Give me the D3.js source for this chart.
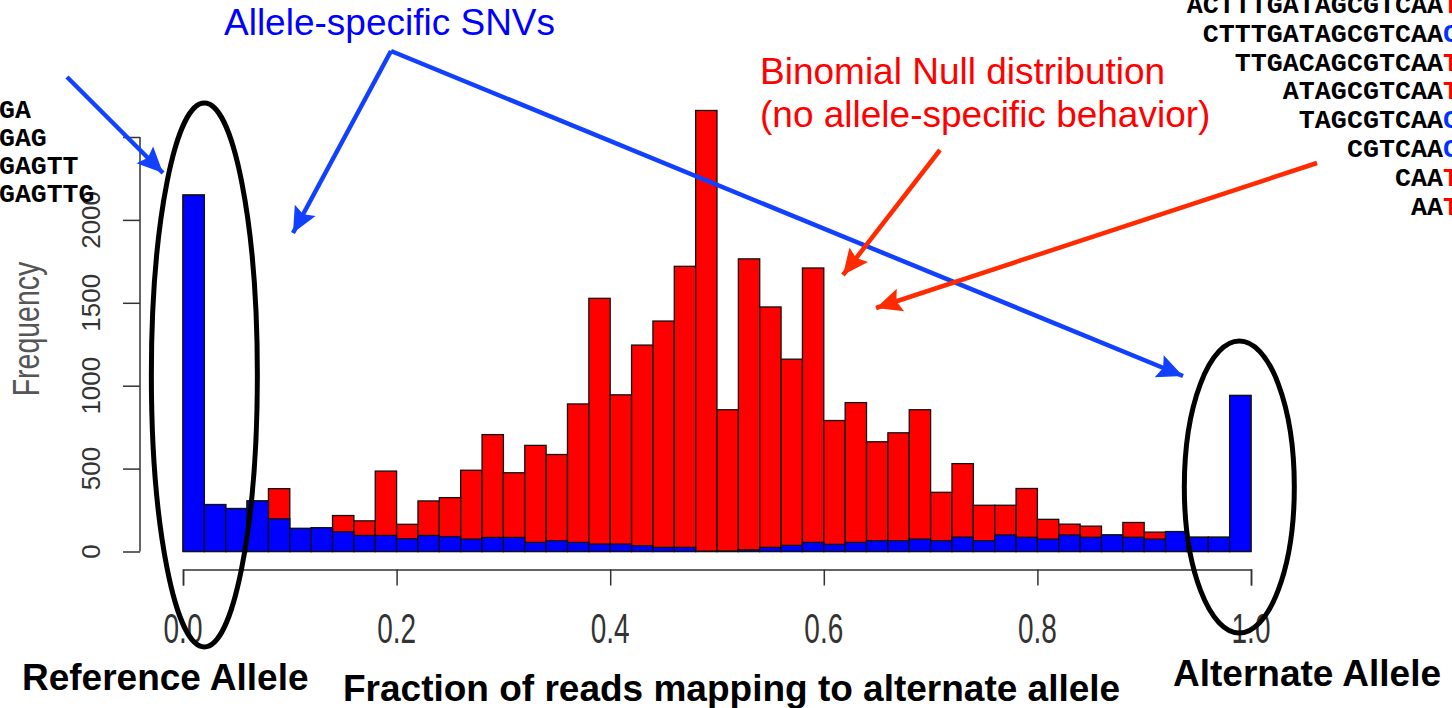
<!DOCTYPE html>
<html>
<head>
<meta charset="utf-8">
<script src="https://cdn.jsdelivr.net/npm/d3@7"></script>
<style>
  body { margin: 0; background: #fff; }
  svg { display: block; }
</style>
</head>
<body>
<div id="chart"></div>
<script>
// histogram of fraction of reads on the alternate allele, 50 bins of 0.02
// all SNVs (red, drawn first) and allele-specific SNVs (blue, drawn on top)
var allSnvCounts = [2150, 283, 259, 305, 379, 139, 143, 217, 185, 485,
                    164, 305, 325, 490, 705, 475, 640, 585, 890, 1527,
                    945, 1245, 1390, 1720, 2660, 855, 1765, 1475, 1160, 1710,
                    790, 898, 662, 716, 855, 357, 530, 279, 279, 380,
                    194, 165, 153, 100, 175, 117, 120, 86, 86, 941];
var asSnvCounts  = [2150, 283, 259, 305, 197, 139, 143, 119, 97, 97,
                    77, 97, 90, 75, 85, 85, 55, 65, 55, 45,
                    45, 35, 25, 25, 2, 3, 10, 25, 37, 55,
                    43, 55, 65, 65, 75, 65, 87, 65, 100, 86,
                    75, 100, 86, 100, 86, 75, 120, 86, 86, 941];
var binWidth = 0.02;

var xTicks = [0, 0.2, 0.4, 0.6, 0.8, 1.0];
var yTicks = [0, 500, 1000, 1500, 2000, 2500];
var yTickLabels = ['0', '500', '1000', '1500', '2000', ''];

// read sequences cropped at the slide edges; the alt base gets coloured
var leftSeqs = ['GA', 'GAG', 'GAGTT', 'GAGTTG'];
var rightSeqHeads = ['ACTTTGATAGCGTCAA', 'CTTTGATAGCGTCAA', 'TTGACAGCGTCAA', 'ATAGCGTCAA',
                     'TAGCGTCAA', 'CGTCAA', 'CAA', 'AA'];
var rightSeqAlts  = ['T', 'C', 'T', 'T', 'C', 'C', 'T', 'T'];

var W = 1452, H = 708;
var sans = '"Liberation Sans", Arial, Helvetica, sans-serif';
var mono = '"Courier New", "Liberation Mono", monospace';
var BLUE_ARROW = '#1240ff', RED_ARROW = '#ff2a00';

var svg = d3.select('#chart').append('svg')
  .attr('width', W)
  .attr('height', H);

var x = d3.scaleLinear().domain([0, 1]).range([183, 1251]);
var y = d3.scaleLinear().domain([0, 2500]).range([551.5, 137]);

var bins = d3.range(allSnvCounts.length).map(function(i) {
  return { x0: i * binWidth, x1: (i + 1) * binWidth, all: allSnvCounts[i], as: asSnvCounts[i] };
});

// red: all SNVs
svg.append('g').selectAll('rect').data(bins).enter()
  .append('rect')
  .attr('x', function(d) { return x(d.x0); })
  .attr('width', function(d) { return x(d.x1) - x(d.x0); })
  .attr('y', function(d) { return y(d.all); })
  .attr('height', function(d) { return y(0) - y(d.all); })
  .attr('fill', '#ff0000')
  .attr('stroke', '#111')
  .attr('stroke-width', 1.3);

// blue: allele-specific SNVs
svg.append('g').selectAll('rect').data(bins).enter()
  .append('rect')
  .attr('x', function(d) { return x(d.x0); })
  .attr('width', function(d) { return x(d.x1) - x(d.x0); })
  .attr('y', function(d) { return y(d.as); })
  .attr('height', function(d) { return y(0) - y(d.as); })
  .attr('fill', '#0000ff')
  .attr('stroke', '#111')
  .attr('stroke-width', 1.3);

// x axis (R style, detached below the bars)
var xAxis = svg.append('g')
  .attr('transform', 'translate(0,569.5)')
  .call(d3.axisBottom(x).tickValues(xTicks).tickSize(16).tickFormat(''));
xAxis.select('.domain').attr('stroke', '#333').attr('stroke-width', 1.5);
xAxis.selectAll('.tick line').attr('stroke', '#333').attr('stroke-width', 1.5);

svg.append('g').selectAll('text').data(xTicks).enter()
  .append('text')
  .attr('transform', function(d) { return 'translate(' + x(d) + ',643) scale(1,1.5)'; })
  .attr('text-anchor', 'middle')
  .style('font-family', sans)
  .style('font-size', '28px')
  .attr('fill', '#333')
  .text(function(d) { return d3.format('.1f')(d); });

// y axis
var yAxis = svg.append('g')
  .attr('transform', 'translate(140,0)')
  .call(d3.axisLeft(y).tickValues(yTicks).tickSize(17).tickFormat(''));
yAxis.select('.domain').attr('stroke', '#333').attr('stroke-width', 1.5)
  .attr('d', 'M0,' + y(0) + 'V' + y(2500));
yAxis.selectAll('.tick line').attr('stroke', '#333').attr('stroke-width', 1.5);

svg.append('g').selectAll('text').data(yTicks).enter()
  .append('text')
  .attr('transform', function(d) { return 'translate(100,' + y(d) + ') rotate(-90)'; })
  .attr('text-anchor', 'middle')
  .style('font-family', sans)
  .style('font-size', '26px')
  .attr('fill', '#333')
  .text(function(d, i) { return yTickLabels[i]; });

svg.append('text')
  .attr('transform', 'translate(39,329) rotate(-90) scale(1,1.27)')
  .attr('text-anchor', 'middle')
  .style('font-family', sans)
  .style('font-size', '28.5px')
  .attr('fill', '#555')
  .text('Frequency');

// sequences, left edge (cropped)
svg.append('g').selectAll('text').data(leftSeqs).enter()
  .append('text')
  .attr('x', -1)
  .attr('y', function(d, i) { return 118 + i * 28; })
  .style('font-family', mono)
  .style('font-size', '26.5px')
  .style('font-weight', 'bold')
  .attr('fill', '#000')
  .text(function(d) { return d; });

// sequences, right edge (cropped), alt base coloured
var rs = svg.append('g').selectAll('text').data(rightSeqHeads).enter()
  .append('text')
  .attr('x', 1459)
  .attr('y', function(d, i) { return 13 + i * 28.8; })
  .attr('text-anchor', 'end')
  .style('font-family', mono)
  .style('font-size', '26.7px')
  .style('font-weight', 'bold')
  .attr('fill', '#000');
rs.append('tspan').text(function(d) { return d; });
rs.append('tspan')
  .attr('fill', function(d, i) { return rightSeqAlts[i] === 'T' ? '#ff0000' : '#0033ff'; })
  .text(function(d, i) { return rightSeqAlts[i]; });

// ellipses round the two extremes
svg.append('ellipse')
  .attr('cx', x(0.02)).attr('cy', 375).attr('rx', 53).attr('ry', 272)
  .attr('fill', 'none').attr('stroke', '#000').attr('stroke-width', 5);
svg.append('ellipse')
  .attr('cx', x(0.99) - 1).attr('cy', 487).attr('rx', 55).attr('ry', 146)
  .attr('fill', 'none').attr('stroke', '#000').attr('stroke-width', 5);

// arrows
var defs = svg.append('defs');
[['blueHead', BLUE_ARROW], ['redHead', RED_ARROW]].forEach(function(m) {
  defs.append('marker')
    .attr('id', m[0])
    .attr('markerUnits', 'userSpaceOnUse')
    .attr('markerWidth', 30).attr('markerHeight', 30)
    .attr('viewBox', '-26 -13 28 26')
    .attr('refX', 0).attr('refY', 0)
    .attr('orient', 'auto')
    .append('path')
    .attr('d', 'M0,0 L-24,-11 L-20,0 L-24,11 Z')
    .attr('fill', m[1]);
});

var arrows = [
  { from: [67, 77],   to: [163, 173], c: BLUE_ARROW, m: 'blueHead' },
  { from: [391, 51],  to: [293, 233], c: BLUE_ARROW, m: 'blueHead' },
  { from: [391, 51],  to: [1183, 376], c: BLUE_ARROW, m: 'blueHead' },
  { from: [940, 150], to: [843, 275], c: RED_ARROW, m: 'redHead' },
  { from: [1317, 163], to: [876, 308], c: RED_ARROW, m: 'redHead' }
];
svg.append('g').selectAll('line').data(arrows).enter()
  .append('line')
  .attr('x1', function(d) { return d.from[0]; })
  .attr('y1', function(d) { return d.from[1]; })
  .attr('x2', function(d) { return d.to[0]; })
  .attr('y2', function(d) { return d.to[1]; })
  .attr('stroke', function(d) { return d.c; })
  .attr('stroke-width', 4.5)
  .attr('stroke-linejoin', 'round')
  .attr('marker-end', function(d) { return 'url(#' + d.m + ')'; });

// annotation text
svg.append('text')
  .attr('x', 224).attr('y', 35)
  .style('font-family', sans).style('font-size', '37px')
  .attr('fill', '#0000ff')
  .text('Allele-specific SNVs');

svg.append('text')
  .attr('x', 760).attr('y', 84)
  .style('font-family', sans).style('font-size', '37px')
  .attr('fill', '#ff0000')
  .text('Binomial Null distribution');
svg.append('text')
  .attr('x', 760).attr('y', 127)
  .style('font-family', sans).style('font-size', '37px')
  .attr('fill', '#ff0000')
  .text('(no allele-specific behavior)');

svg.append('text')
  .attr('x', 22).attr('y', 690)
  .style('font-family', sans).style('font-size', '37px').style('font-weight', 'bold')
  .attr('fill', '#000')
  .text('Reference Allele');
svg.append('text')
  .attr('x', 343).attr('y', 701)
  .style('font-family', sans).style('font-size', '37px').style('font-weight', 'bold')
  .attr('fill', '#000')
  .text('Fraction of reads mapping to alternate allele');
svg.append('text')
  .attr('x', 1173).attr('y', 686)
  .style('font-family', sans).style('font-size', '37px').style('font-weight', 'bold')
  .attr('fill', '#000')
  .text('Alternate Allele');
</script>
</body>
</html>
